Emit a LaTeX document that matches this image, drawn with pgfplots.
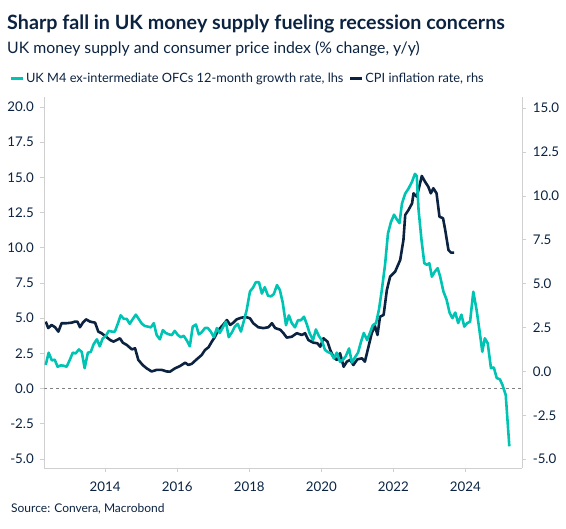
\documentclass[border=0pt]{standalone}
\usepackage{fontspec}
\setmainfont{Lato}
\usepackage{pgfplots}
\pgfplotsset{compat=1.18}
\definecolor{m4col}{HTML}{00C4B3}
\definecolor{navy}{HTML}{0B2341}
\definecolor{axgray}{HTML}{CFCFCF}

\pgfplotstableread{
t v
2012.35 1.68
2012.43 2.55
2012.52 2.00
2012.60 2.05
2012.68 1.55
2012.77 1.65
2012.85 1.62
2012.93 1.55
2013.02 2.05
2013.10 2.55
2013.18 2.50
2013.27 2.78
2013.35 2.60
2013.43 1.45
2013.52 2.55
2013.60 2.60
2013.68 3.15
2013.77 3.50
2013.85 3.00
2013.93 3.55
2014.02 3.75
2014.10 4.10
2014.18 4.05
2014.27 4.05
2014.35 4.60
2014.43 5.20
2014.52 4.95
2014.60 4.95
2014.68 4.60
2014.77 4.95
2014.85 5.25
2014.93 4.95
2015.02 4.60
2015.10 4.45
2015.18 4.40
2015.27 4.35
2015.35 4.65
2015.43 3.80
2015.52 3.50
2015.60 4.15
2015.68 3.95
2015.77 3.85
2015.85 3.80
2015.93 4.10
2016.02 3.80
2016.10 3.65
2016.18 3.75
2016.27 3.40
2016.35 3.00
2016.43 4.40
2016.52 4.55
2016.60 3.85
2016.68 4.00
2016.77 4.30
2016.85 4.30
2016.93 4.05
2017.02 3.65
2017.10 4.30
2017.18 3.95
2017.27 4.35
2017.35 4.75
2017.43 3.65
2017.52 4.00
2017.60 4.40
2017.68 4.60
2017.77 4.05
2017.85 4.80
2017.93 5.60
2018.02 6.90
2018.10 7.15
2018.18 7.55
2018.27 7.55
2018.35 6.75
2018.43 7.20
2018.52 6.60
2018.60 6.55
2018.68 6.70
2018.77 7.35
2018.85 7.00
2018.93 6.10
2019.02 4.50
2019.10 5.20
2019.18 4.65
2019.27 4.35
2019.35 4.85
2019.43 4.85
2019.52 5.10
2019.60 4.55
2019.68 3.90
2019.77 3.45
2019.85 4.20
2019.93 3.75
2020.02 3.40
2020.10 2.75
2020.18 2.60
2020.27 2.50
2020.35 2.15
2020.43 2.55
2020.52 1.90
2020.60 2.05
2020.68 2.30
2020.77 2.85
2020.85 1.85
2020.93 2.20
2021.02 2.55
2021.10 3.30
2021.18 3.95
2021.27 3.45
2021.35 3.95
2021.43 4.50
2021.52 4.65
2021.60 5.60
2021.68 7.00
2021.77 8.80
2021.85 11.00
2021.93 11.80
2022.02 12.35
2022.10 12.00
2022.17 11.75
2022.24 13.15
2022.33 13.85
2022.42 14.20
2022.52 14.70
2022.60 15.25
2022.65 15.10
2022.70 12.70
2022.78 10.60
2022.86 8.90
2022.93 8.80
2023.00 8.90
2023.07 7.95
2023.15 8.30
2023.23 8.55
2023.30 7.95
2023.39 6.90
2023.48 6.30
2023.56 5.40
2023.64 5.00
2023.72 5.40
2023.80 4.65
2023.89 5.25
2023.97 4.40
2024.05 4.65
2024.13 4.75
2024.22 6.88
2024.31 5.60
2024.39 4.15
2024.47 2.62
2024.54 3.57
2024.62 3.22
2024.71 1.45
2024.79 1.50
2024.87 0.75
2024.96 0.65
2025.03 0.25
2025.12 -0.45
2025.22 -4.10
}\mfour

\pgfplotstableread{
t v
2012.35 2.84
2012.42 2.47
2012.51 2.65
2012.61 2.52
2012.70 2.27
2012.79 2.75
2012.93 2.75
2013.07 2.78
2013.16 2.84
2013.23 2.84
2013.30 2.52
2013.38 2.78
2013.47 2.97
2013.58 2.84
2013.72 2.78
2013.81 2.27
2013.90 2.18
2014.00 2.02
2014.14 1.79
2014.23 1.70
2014.32 1.79
2014.41 1.89
2014.49 1.64
2014.60 1.51
2014.74 1.26
2014.83 1.32
2014.92 0.66
2015.04 0.37
2015.15 0.18
2015.29 0.00
2015.43 0.09
2015.57 0.09
2015.71 0.00
2015.80 -0.01
2015.94 0.18
2016.08 0.31
2016.22 0.50
2016.31 0.37
2016.40 0.43
2016.54 0.69
2016.68 0.94
2016.77 1.22
2016.87 1.38
2016.96 1.70
2017.05 1.98
2017.14 2.36
2017.27 2.65
2017.38 2.93
2017.47 2.65
2017.56 2.78
2017.65 2.97
2017.79 3.07
2017.93 3.09
2018.02 3.03
2018.11 2.75
2018.25 2.52
2018.39 2.47
2018.53 2.52
2018.63 2.75
2018.72 2.47
2018.86 2.38
2018.95 2.18
2019.04 1.93
2019.18 1.98
2019.32 2.18
2019.46 2.08
2019.55 2.18
2019.64 1.79
2019.78 1.64
2019.89 1.61
2019.97 1.41
2020.06 1.89
2020.17 1.70
2020.25 1.22
2020.34 0.81
2020.43 0.66
2020.52 1.04
2020.62 0.27
2020.71 0.56
2020.80 0.66
2020.89 0.37
2021.00 0.69
2021.13 0.75
2021.21 0.56
2021.31 1.41
2021.40 2.18
2021.49 2.59
2021.56 2.08
2021.63 3.12
2021.73 3.22
2021.82 4.64
2021.91 5.40
2022.05 5.69
2022.19 6.35
2022.28 7.49
2022.33 8.92
2022.42 9.20
2022.52 9.58
2022.56 10.15
2022.65 9.96
2022.72 10.53
2022.79 11.14
2022.88 10.81
2022.97 10.53
2023.04 10.15
2023.11 10.44
2023.20 10.15
2023.28 8.82
2023.38 8.73
2023.44 8.06
2023.53 6.92
2023.60 6.77
2023.69 6.77
}\cpi

\begin{document}
\begin{tikzpicture}
\path[use as bounding box] (0pt,0pt) rectangle (566pt,529pt);
\node[anchor=base west, inner sep=0, text=navy, font=\fontsize{19.7}{20}\selectfont\bfseries] at (7pt,499pt) {Sharp fall in UK money supply fueling recession concerns};
\node[anchor=base west, inner sep=0, text=navy, font=\fontsize{15.8}{17}\selectfont] at (7pt,475pt) {UK money supply and consumer price index (\% change, y/y)};
\node[anchor=base west, inner sep=0, text=navy, font=\fontsize{12}{13}\selectfont] at (11pt,16pt) {Source: Convera, Macrobond};

% right axis: CPI
\begin{axis}[
  at={(44.3pt,61pt)}, anchor=south west, scale only axis,
  width=478pt, height=371pt,
  xmin=2012.31, xmax=2025.58, ymin=-5.5, ymax=15.64,
  axis x line=none, axis y line*=right,
  axis line style={axgray, line width=0.9pt, -},
  ytick={-5,-2.5,...,15},
  tick align=outside, major tick length=4pt,
  tick style={axgray, line width=0.9pt},
  /pgf/number format/assume math mode=true,
  yticklabel style={/pgf/number format/fixed, /pgf/number format/fixed zerofill, /pgf/number format/precision=1, font=\fontsize{13.3}{14}\selectfont, text=navy, xshift=3pt},
]
\addplot[navy, line width=2.6pt, line join=round] table[x=t,y=v] {\cpi};
\end{axis}

% left axis: M4
\begin{axis}[
  at={(44.3pt,61pt)}, anchor=south west, scale only axis,
  width=478pt, height=371pt,
  xmin=2012.31, xmax=2025.58, ymin=-5.64, ymax=20.71,
  axis x line*=bottom, axis y line*=left,
  axis line style={axgray, line width=0.9pt, -},
  xtick={2014,2016,...,2024}, ytick={-5,-2.5,...,20},
  tick align=outside, major tick length=4pt,
  tick style={axgray, line width=0.9pt},
  /pgf/number format/assume math mode=true,
  xticklabel style={/pgf/number format/1000 sep={}, font=\fontsize{13.3}{14}\selectfont, text=navy, yshift=-6pt},
  yticklabel style={/pgf/number format/fixed, /pgf/number format/fixed zerofill, /pgf/number format/precision=1, font=\fontsize{13.3}{14}\selectfont, text=navy, xshift=-3pt},
  legend style={draw=none, fill=none, inner sep=0pt, outer sep=0pt,
    at={(axis description cs:-0.0738,1.0485)}, anchor=west,
    font=\fontsize{12.8}{14}\selectfont, text=navy,
    legend columns=-1,
    /tikz/every even column/.append style={column sep=3pt}},
  legend cell align=left,
  legend image code/.code={\draw[#1, line width=3pt] (0pt,0pt) -- (12pt,0pt);},
]
\addplot[gray, dashed, line width=0.7pt, forget plot] coordinates {(2012.31,0) (2025.58,0)};
\addplot[m4col, line width=2.6pt, line join=round] table[x=t,y=v] {\mfour};
\addlegendentry{UK M4 ex-intermediate OFCs 12-month growth rate, lhs}
\addlegendimage{navy}
\addlegendentry{CPI inflation rate, rhs}
\end{axis}
\end{tikzpicture}
\end{document}
